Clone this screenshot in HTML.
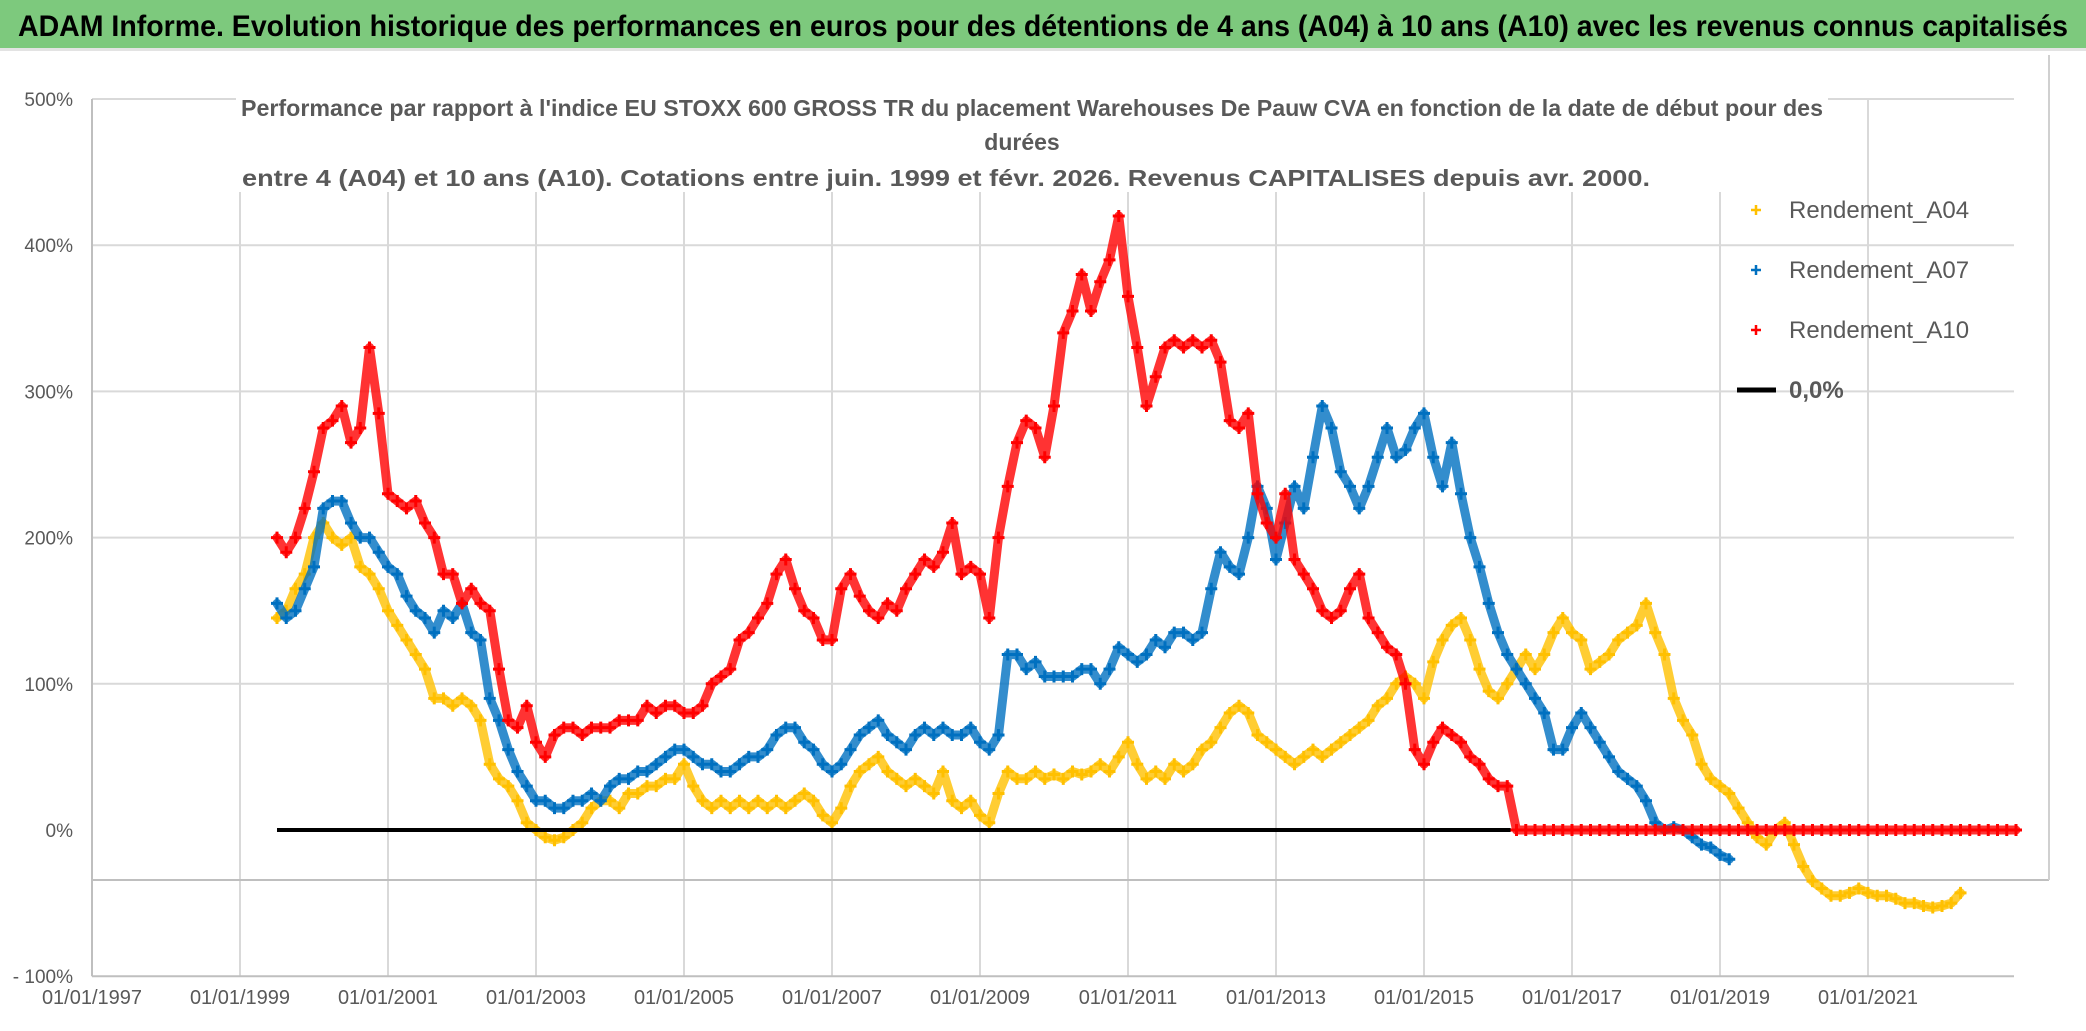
<!DOCTYPE html>
<html><head><meta charset="utf-8">
<style>
html,body{margin:0;padding:0;background:#fff;}
svg{display:block;}
text{font-family:"Liberation Sans Narrow","Liberation Sans",sans-serif;}
</style></head>
<body>
<svg id="chart" width="2086" height="1031" viewBox="0 0 2086 1031" xmlns="http://www.w3.org/2000/svg">
<rect x="0" y="0" width="2086" height="1031" fill="#fff"/>
<rect x="0" y="0" width="2086" height="48" fill="#7dc97d"/>
<rect x="0" y="48" width="2086" height="3" fill="#e3e3e3"/>
<text x="1043" y="36" text-anchor="middle" font-size="30" font-weight="bold" fill="#000" textLength="2050" lengthAdjust="spacingAndGlyphs">ADAM Informe. Evolution historique des performances en euros pour des détentions de 4 ans (A04) à 10 ans (A10) avec les revenus connus capitalisés</text>
<g id="grid"></g>
<g id="axes"></g>
<g id="series"></g>
<g fill="#595959" font-weight="bold" font-size="23">
<rect x="236" y="92" width="1592" height="100" fill="#fff"/>
<text x="1032" y="116" text-anchor="middle" textLength="1582" lengthAdjust="spacingAndGlyphs">Performance par rapport à l'indice EU STOXX 600 GROSS TR  du placement Warehouses De Pauw CVA en fonction de la date de début pour des</text>
<text x="1022" y="150" text-anchor="middle">durées</text>
<text x="946" y="186" text-anchor="middle" textLength="1408" lengthAdjust="spacingAndGlyphs">entre 4 (A04) et 10 ans (A10). Cotations entre juin. 1999 et févr. 2026. Revenus CAPITALISES depuis avr. 2000.</text>
</g>
<g id="legend" font-size="24" fill="#595959"></g>
</svg>
<script>
const startYear = 1999.5;
const stepYear = 0.125;
const a04Values = [
145,150,165,175,200,210,200,195,200,180,175,165,150,140,130,120,
110,90,90,85,90,85,75,45,35,30,20,5,0,-5,-7,-5,
0,5,15,20,20,15,25,25,30,30,35,35,45,30,20,15,
20,15,20,15,20,15,20,15,20,25,20,10,5,15,30,40,
45,50,40,35,30,35,30,25,40,20,15,20,10,5,25,40,
35,35,40,35,38,35,40,38,40,45,40,50,60,45,35,40,
35,45,40,45,55,60,70,80,85,80,65,60,55,50,45,50,
55,50,55,60,65,70,75,85,90,100,105,100,90,115,130,140,
145,130,110,95,90,100,110,120,110,120,135,145,135,130,110,115,
120,130,135,140,155,135,120,90,75,65,45,35,30,25,15,5,
-5,-10,0,5,-10,-25,-35,-40,-45,-45,-43,-40,-43,-45,-45,-47,
-50,-50,-52,-53,-52,-50,-43
];
const a07Values = [
155,145,150,165,180,220,225,225,210,200,200,190,180,175,160,150,
145,135,150,145,155,135,130,90,75,55,40,30,20,20,15,15,
20,20,25,20,30,35,35,40,40,45,50,55,55,50,45,45,
40,40,45,50,50,55,65,70,70,60,55,45,40,45,55,65,
70,75,65,60,55,65,70,65,70,65,65,70,60,55,65,120,
120,110,115,105,105,105,105,110,110,100,110,125,120,115,120,130,
125,135,135,130,135,165,190,180,175,200,235,220,185,210,235,220,
255,290,275,245,235,220,235,255,275,255,260,275,285,255,235,265,
230,200,180,155,135,120,110,100,90,80,55,55,70,80,70,60,
50,40,35,30,20,5,0,2,0,-5,-10,-12,-17,-20
];
const a10Values = [
200,190,200,220,245,275,280,290,265,275,330,285,230,225,220,225,
210,200,175,175,155,165,155,150,110,75,70,85,60,50,65,70,
70,65,70,70,70,75,75,75,85,80,85,85,80,80,85,100,
105,110,130,135,145,155,175,185,165,150,145,130,130,165,175,160,
150,145,155,150,165,175,185,180,190,210,175,180,175,145,200,235,
265,280,275,255,290,340,355,380,355,375,390,420,365,330,290,310,
330,335,330,335,330,335,320,280,275,285,230,210,200,230,185,175,
165,150,145,150,165,175,145,135,125,120,100,55,45,60,70,65,
60,50,45,35,30,30,
0,0,0,0,0,0,0,0,0,0,0,0,0,0,0,0,
0,0,0,0,0,0,0,0,0,0,0,0,0,0,0,0,
0,0,0,0,0,0,0,0,0,0,0,0,0,0,0,0,
0,0,0,0,0,0,0
];
const yTickValues = [500,400,300,200,100,0,-100];
const yTickLabels = ["500%","400%","300%","200%","100%","0%","- 100%"];
const xTickYears = [1997,1999,2001,2003,2005,2007,2009,2011,2013,2015,2017,2019,2021];
const zeroLineRange = [1999.5, 2016.17];
const legendLabels = ["Rendement_A04","Rendement_A07","Rendement_A10","0,0%"];

const NS = "http://www.w3.org/2000/svg";
const X0 = 92, PXY = 74, Y0 = 830, PXV = 1.462, RIGHT = 2014;
function xPx(yr){ return X0 + (yr - 1997) * PXY; }
function yPx(v){ return Y0 - v * PXV; }
function mk(tag, attrs, parent){ const e = document.createElementNS(NS, tag); for (const k in attrs) e.setAttribute(k, attrs[k]); parent.appendChild(e); return e; }

const grid = document.getElementById('grid');
const axes = document.getElementById('axes');
yTickValues.forEach((v,i)=>{
  if (v !== -100 && v !== 0) {
    const l = mk('line',{x1:X0,x2:RIGHT,y1:yPx(v),y2:yPx(v),stroke:'#d9d9d9','stroke-width':2},grid);
    
    
  }
  const t = mk('text',{x:73,y:yPx(v)+7,'text-anchor':'end','font-size':19,fill:'#595959'},axes);
  t.textContent = yTickLabels[i];
  
  
});
xTickYears.forEach(yr=>{
  if (yr !== 1997) {
    const l = mk('line',{x1:xPx(yr),x2:xPx(yr),y1:yPx(500),y2:yPx(-100),stroke:'#d9d9d9','stroke-width':2},grid);
    
    
  }
  const t = mk('text',{x:xPx(yr),y:1004,'text-anchor':'middle','font-size':20,fill:'#595959'},axes);
  t.textContent = '01/01/' + yr;
  
  
});
const yAxis = mk('line',{x1:X0,x2:X0,y1:yPx(500),y2:yPx(-100),stroke:'#bfbfbf','stroke-width':2},axes);


const xAxis = mk('line',{x1:X0,x2:RIGHT,y1:yPx(-100),y2:yPx(-100),stroke:'#bfbfbf','stroke-width':2},axes);


const frameH = mk('line',{x1:X0,x2:2049,y1:880,y2:880,stroke:'#bfbfbf','stroke-width':2},axes);


const frameV = mk('line',{x1:2049,x2:2049,y1:55,y2:880,stroke:'#d0d0d0','stroke-width':2},axes);



const series = document.getElementById('series');
function drawSeries(vals, color, name){
  const g = mk('g',{},series);
  
  
  const pts = vals.map((v,i)=> xPx(startYear + i*stepYear).toFixed(1)+','+yPx(v).toFixed(1)).join(' ');
  const pl = mk('polyline',{points:pts,fill:'none',stroke:color,'stroke-width':9,'stroke-opacity':0.8,'stroke-linejoin':'round','stroke-linecap':'round'},g);
  
  
  let d = '';
  vals.forEach((v,i)=>{
    const x = xPx(startYear + i*stepYear), y = yPx(v);
    d += 'M'+(x-6)+' '+y+'h12M'+x+' '+(y-6)+'v12';
  });
  const p = mk('path',{d:d,stroke:color,'stroke-width':3,fill:'none'},g);
  
  
}
drawSeries(a04Values,'#ffc000','series-a04');
drawSeries(a07Values,'#0070c0','series-a07');
const zl = mk('line',{x1:xPx(zeroLineRange[0]),x2:xPx(zeroLineRange[1]),y1:yPx(0),y2:yPx(0),stroke:'#000','stroke-width':4},series);


drawSeries(a10Values,'#ff0000','series-a10');

const legend = document.getElementById('legend');
const legColors = ['#ffc000','#0070c0','#ff0000'];
legendLabels.forEach((lab,i)=>{
  const y = 210 + i*60;
  const g = mk('g',{},legend);
  
  
  if (i < 3) {
    mk('path',{d:'M1751 '+y+'h10M1756 '+(y-5)+'v10',stroke:legColors[i],'stroke-width':2.5},g);
  } else {
    mk('line',{x1:1737,x2:1776,y1:y,y2:y,stroke:'#000','stroke-width':5},g);
  }
  const t = mk('text',{x:1789,y:y+8,'font-size':24,fill:'#595959','font-weight':i===3?'bold':'normal'},g);
  t.textContent = lab;
});
</script>
</body></html>
